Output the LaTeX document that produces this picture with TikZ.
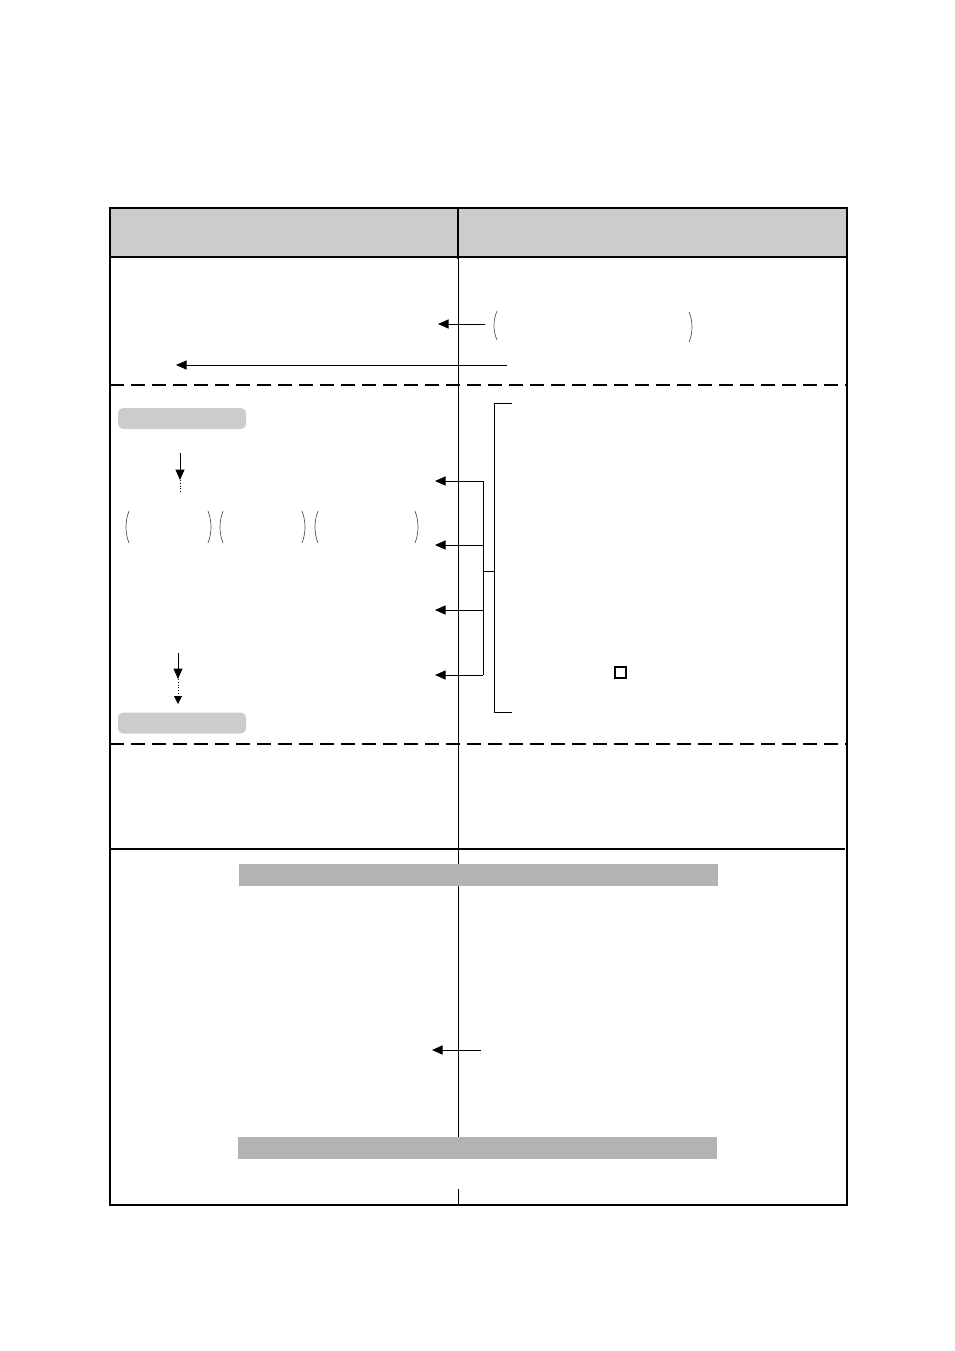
\documentclass[tikz,border=0pt]{standalone}
\usetikzlibrary{arrows.meta}
\definecolor{hdrgray}{HTML}{CCCCCC}
\definecolor{bargray}{HTML}{B3B3B3}
\definecolor{pargray}{HTML}{555555}
\begin{document}
\begin{tikzpicture}[x=1pt,y=-1pt,
  thinln/.style={line width=1pt,black},
  arr/.style={line width=1pt,-{Triangle[length=10.5pt,width=9pt]}},
  dotarr/.style={line width=0.8pt,dotted},
  paren/.style={line width=0.7pt,pargray},
  pillbox/.style={fill=hdrgray,rounded corners=5pt,draw=none},
  barbox/.style={fill=bargray,draw=none}]
\useasboundingbox (0,0) rectangle (954,1351);
% header
\fill[hdrgray] (110,208) rectangle (847,257);
% vertical divider
\draw[thinln] (458,257) -- (458,1137);
\draw[thinln] (458,1189) -- (458,1205);
\draw[line width=2pt] (458,208) -- (458,259);
\draw[line width=2pt] (110,257) -- (847,257);
% separators
\draw[line width=1.2pt,dash pattern=on 14pt off 7pt] (110,385) -- (847,385);
\draw[line width=2pt,dash pattern=on 14pt off 7pt] (110,744) -- (847,744);
\draw[line width=1.5pt] (110,849) -- (845,849);
% outer frame
\draw[line width=2pt] (110,208) rectangle (847,1205);
% gray bars
\node[barbox,minimum width=479pt,minimum height=22pt,inner sep=0pt] (barA) at (478.5,875) {};
\node[barbox,minimum width=479pt,minimum height=22pt,inner sep=0pt] (barB) at (477.5,1147.5) {};
% pill boxes
\node[pillbox,minimum width=128pt,minimum height=21pt,inner sep=0pt] (pillA) at (182,418.5) {};
\node[pillbox,minimum width=128pt,minimum height=21pt,inner sep=0pt] (pillB) at (182,723) {};
% top section arrows
\coordinate (t1s) at (485,324); \coordinate (t1e) at (438,324);
\draw[arr] (t1s) -- (t1e);
\coordinate (t2s) at (507,365); \coordinate (t2e) at (176,365);
\draw[arr] (t2s) -- (t2e);
% top parentheses
\draw[paren] (497,311) .. controls (493,320) and (493,331) .. (497,340);
\draw[paren] (689,312) .. controls (693,321) and (693,333) .. (689,342);
% middle down arrows
\coordinate (d1s) at (180,453); \coordinate (d1e) at (180,480);
\draw[arr] (d1s) -- (d1e);
\draw[dotarr] (180,480) -- (180,493);
\coordinate (d2s) at (178,653); \coordinate (d2e) at (178,679);
\draw[arr] (d2s) -- (d2e);
\coordinate (d3s) at (178,679); \coordinate (d3e) at (178,704);
\draw[line width=0.8pt,dotted,-{Triangle[length=8pt,width=8pt]}] (d3s) -- (d3e);
% middle parentheses row
\draw[paren] (129,511) .. controls (125,521) and (125,533) .. (129,543);
\draw[paren] (208,511) .. controls (212,521) and (212,533) .. (208,543);
\draw[paren] (223,511) .. controls (219,521) and (219,533) .. (223,543);
\draw[paren] (302,511) .. controls (306,521) and (306,533) .. (302,543);
\draw[paren] (318,511) .. controls (314,521) and (314,533) .. (318,543);
\draw[paren] (415,511) .. controls (419,521) and (419,533) .. (415,543);
% fan of arrows
\coordinate (f1) at (483,481); \coordinate (f2) at (483,545);
\coordinate (f3) at (483,610); \coordinate (f4) at (483,675);
\coordinate (g1) at (435,481); \coordinate (g2) at (435,545);
\coordinate (g3) at (435,610); \coordinate (g4) at (435,675);
\draw[thinln] (f1) -- (f4);
\foreach \i in {1,2,3,4} \draw[arr] (f\i) -- (g\i);
\coordinate (hub) at (483,571); \coordinate (brk) at (494,571);
\draw[thinln] (hub) -- (brk);
% bracket
\draw[thinln] (512,403) -- (494,403) -- (494,712) -- (512,712);
% small square
\draw[line width=1.6pt] (615,667) rectangle (626,678);
% bottom arrow
\coordinate (b1s) at (481,1050); \coordinate (b1e) at (432,1050);
\draw[arr] (b1s) -- (b1e);
\end{tikzpicture}
\end{document}
